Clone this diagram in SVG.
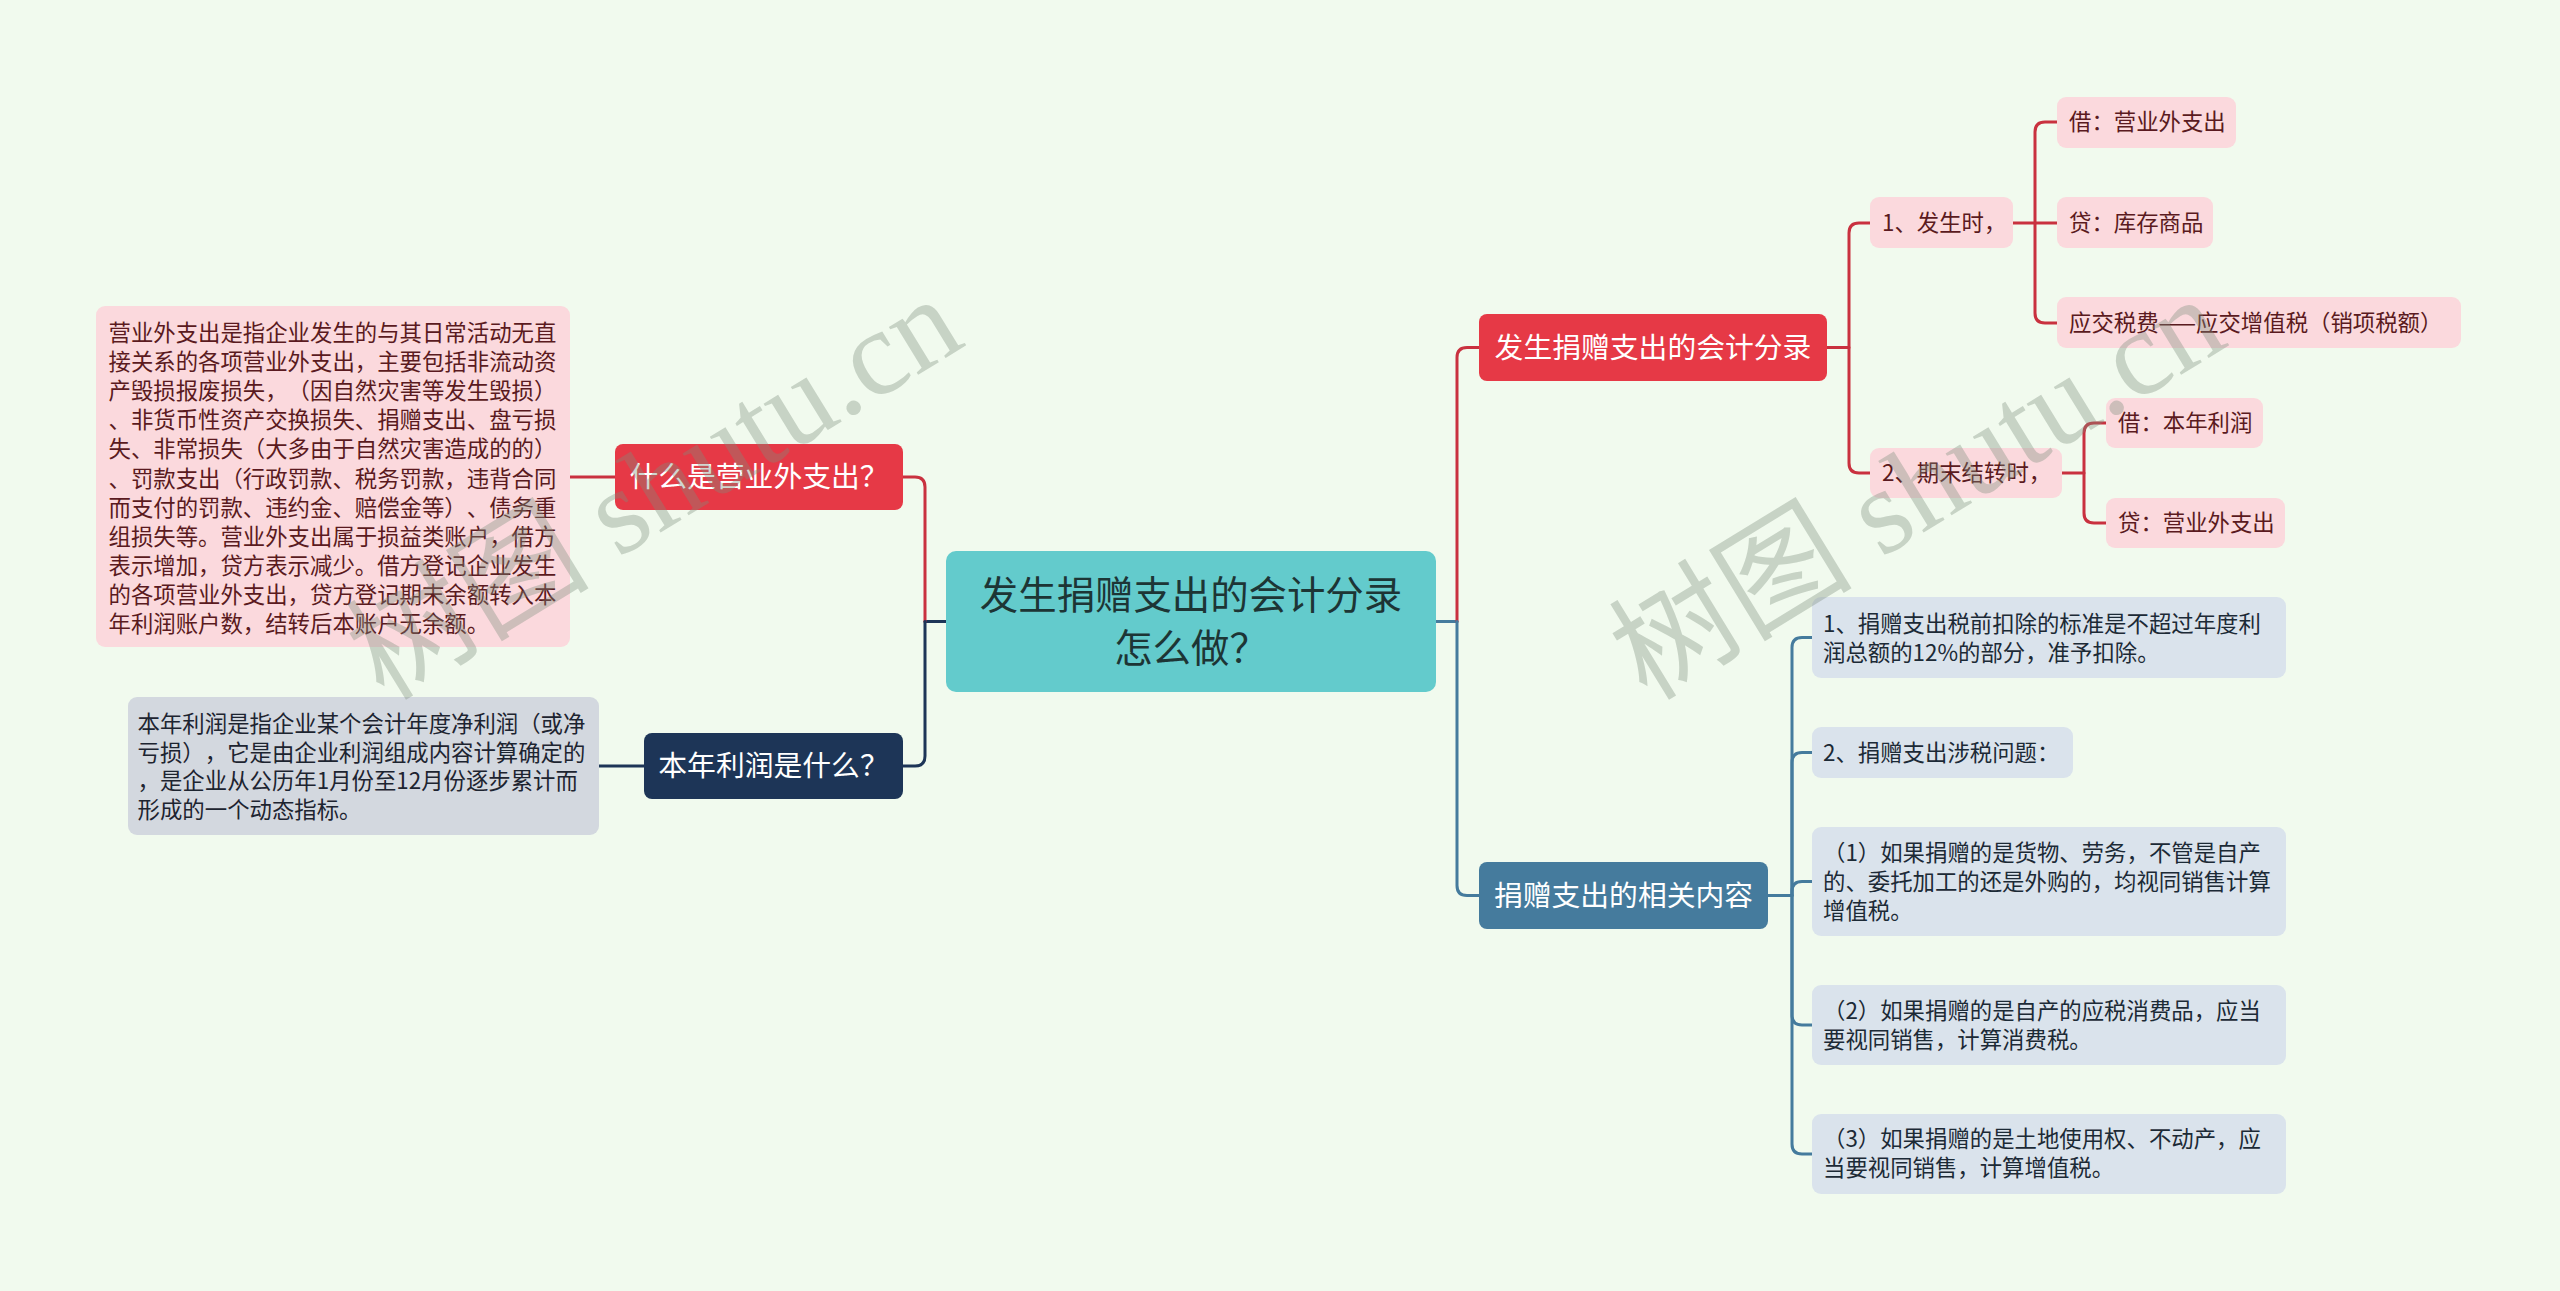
<svg xmlns="http://www.w3.org/2000/svg" width="2560" height="1291" viewBox="0 0 2560 1291">
<defs>
<style>
text{font-family:"Noto Sans CJK SC","Noto Sans",sans-serif;text-spacing-trim:space-all;}
.c{fill:none;stroke-width:3;stroke-linecap:round;stroke-linejoin:round;}
.cr{stroke:#c9313f;}
.cn{stroke:#1d3557;}
.cs{stroke:#457b9d;}
.f38{font-size:38.4px;fill:#1d3535;}
.f29{font-size:28.8px;fill:#ffffff;}
.f22{font-size:22.4px;}
.pk{fill:#fbd9dd;}
.pkt{fill:#5a1a20;}
.bl{fill:#dae3ec;}
.blt{fill:#1c2a36;}
.gr{fill:#d3d8df;}
.grt{fill:#1d2430;}
.wm{font-family:"Liberation Serif","Noto Sans CJK SC",serif;font-size:122px;fill:#7d8e7e;fill-opacity:0.36;}
</style>
</defs>
<rect x="0" y="0" width="2560" height="1291" fill="#f1faee"/>

<g id="connectors">
<path class="c cn" d="M946,621.5 H925"/>
<path class="c cr" d="M925,621.5 V487 Q925,477 915,477 H903"/>
<path class="c cn" d="M925,621.5 V756 Q925,766 915,766 H903"/>
<path class="c cr" d="M570,477 H615"/>
<path class="c cn" d="M599,766 H644"/>

<path class="c cs" d="M1436,621.5 H1457"/>
<path class="c cr" d="M1457,621.5 V357.5 Q1457,347.5 1467,347.5 H1479"/>
<path class="c cs" d="M1457,621.5 V885.5 Q1457,895.5 1467,895.5 H1479"/>

<path class="c cr" d="M1827,347.5 H1849 V233 Q1849,223 1859,223 H1870"/>
<path class="c cr" d="M1849,347.5 V463 Q1849,473 1859,473 H1870"/>

<path class="c cr" d="M2013,223 H2035 V132 Q2035,122 2045,122 H2057"/>
<path class="c cr" d="M2035,223 H2057"/>
<path class="c cr" d="M2035,223 V313 Q2035,323 2045,323 H2057"/>

<path class="c cr" d="M2062,473 H2084 V433 Q2084,423 2094,423 H2106"/>
<path class="c cr" d="M2084,473 V513 Q2084,523 2094,523 H2106"/>

<path class="c cs" d="M1768,895.5 H1792 V647.5 Q1792,637.5 1802,637.5 H1812"/>
<path class="c cs" d="M1792,895.5 V762.5 Q1792,752.5 1802,752.5 H1812"/>
<path class="c cs" d="M1792,895.5 V891.5 Q1792,881.5 1802,881.5 H1812"/>
<path class="c cs" d="M1792,895.5 V1015 Q1792,1025 1802,1025 H1812"/>
<path class="c cs" d="M1792,895.5 V1144 Q1792,1154 1802,1154 H1812"/>
</g>

<g id="root">
<rect x="946" y="551" width="490" height="141" rx="10" fill="#63cbcc"/>
<text class="f38" x="1191" y="608.8" text-anchor="middle">发生捐赠支出的会计分录</text>
<text class="f38" x="1191" y="661.8" text-anchor="middle">怎么做？</text>
</g>

<g id="n-what">
<rect x="615" y="444" width="288" height="66" rx="8" fill="#e63946"/>
<text class="f29" x="759" y="487.4" text-anchor="middle">什么是营业外支出？</text>
</g>

<g id="n-what-desc">
<rect x="96" y="306" width="474" height="341" rx="9" class="pk"/>
<text class="f22 pkt" x="108.5">
<tspan x="108.5" y="341">营业外支出是指企业发生的与其日常活动无直</tspan>
<tspan x="108.5" y="370.1">接关系的各项营业外支出，主要包括非流动资</tspan>
<tspan x="108.5" y="399.2">产毁损报废损失，（因自然灾害等发生毁损）</tspan>
<tspan x="108.5" y="428.3">、非货币性资产交换损失、捐赠支出、盘亏损</tspan>
<tspan x="108.5" y="457.4">失、非常损失（大多由于自然灾害造成的的）</tspan>
<tspan x="108.5" y="486.5">、罚款支出（行政罚款、税务罚款，违背合同</tspan>
<tspan x="108.5" y="515.6">而支付的罚款、违约金、赔偿金等）、债务重</tspan>
<tspan x="108.5" y="544.7">组损失等。营业外支出属于损益类账户，借方</tspan>
<tspan x="108.5" y="573.8">表示增加，贷方表示减少。借方登记企业发生</tspan>
<tspan x="108.5" y="602.9">的各项营业外支出，贷方登记期末余额转入本</tspan>
<tspan x="108.5" y="632">年利润账户数，结转后本账户无余额。</tspan>
</text>
</g>

<g id="n-profit">
<rect x="644" y="733" width="259" height="66" rx="8" fill="#1d3557"/>
<text class="f29" x="773.5" y="776.4" text-anchor="middle">本年利润是什么？</text>
</g>

<g id="n-profit-desc">
<rect x="128" y="697" width="471" height="138" rx="9" class="gr"/>
<text class="f22 grt">
<tspan x="137.6" y="732">本年利润是指企业某个会计年度净利润（或净</tspan>
<tspan x="137.6" y="760.5">亏损），它是由企业利润组成内容计算确定的</tspan>
<tspan x="137.6" y="789">，是企业从公历年1月份至12月份逐步累计而</tspan>
<tspan x="137.6" y="818">形成的一个动态指标。</tspan>
</text>
</g>

<g id="n-entry">
<rect x="1479" y="314" width="348" height="67" rx="8" fill="#e63946"/>
<text class="f29" x="1653" y="358" text-anchor="middle">发生捐赠支出的会计分录</text>
</g>

<g id="n-occur">
<rect x="1870" y="197" width="143" height="51" rx="9" class="pk"/>
<text class="f22 pkt" x="1882" y="231">1、发生时，</text>
</g>
<g id="n-occur-debit">
<rect x="2057" y="97" width="179" height="51" rx="9" class="pk"/>
<text class="f22 pkt" x="2069" y="130">借：营业外支出</text>
</g>
<g id="n-occur-credit1">
<rect x="2057" y="197" width="156" height="51" rx="9" class="pk"/>
<text class="f22 pkt" x="2069" y="231">贷：库存商品</text>
</g>
<g id="n-occur-credit2">
<rect x="2057" y="297" width="404" height="51" rx="9" class="pk"/>
<text class="f22 pkt" x="2069" y="331">应交税费——应交增值税（销项税额）</text>
</g>

<g id="n-close">
<rect x="1870" y="448" width="192" height="50" rx="9" class="pk"/>
<text class="f22 pkt" x="1882" y="481">2、期末结转时，</text>
</g>
<g id="n-close-debit">
<rect x="2106" y="398" width="157" height="50" rx="9" class="pk"/>
<text class="f22 pkt" x="2118" y="431">借：本年利润</text>
</g>
<g id="n-close-credit">
<rect x="2106" y="498" width="179" height="50" rx="9" class="pk"/>
<text class="f22 pkt" x="2118" y="531">贷：营业外支出</text>
</g>

<g id="n-related">
<rect x="1479" y="862" width="289" height="67" rx="8" fill="#457b9d"/>
<text class="f29" x="1623.5" y="906" text-anchor="middle">捐赠支出的相关内容</text>
</g>

<g id="n-rel-1">
<rect x="1812" y="597" width="474" height="81" rx="9" class="bl"/>
<text class="f22 blt">
<tspan x="1823" y="632">1、捐赠支出税前扣除的标准是不超过年度利</tspan>
<tspan x="1823" y="661">润总额的12%的部分，准予扣除。</tspan>
</text>
</g>
<g id="n-rel-2">
<rect x="1812" y="727" width="261" height="51" rx="9" class="bl"/>
<text class="f22 blt" x="1823" y="760.5">2、捐赠支出涉税问题：</text>
</g>
<g id="n-rel-3">
<rect x="1812" y="827" width="474" height="109" rx="9" class="bl"/>
<text class="f22 blt">
<tspan x="1823" y="861">（1）如果捐赠的是货物、劳务，不管是自产</tspan>
<tspan x="1823" y="890">的、委托加工的还是外购的，均视同销售计算</tspan>
<tspan x="1823" y="919">增值税。</tspan>
</text>
</g>
<g id="n-rel-4">
<rect x="1812" y="985" width="474" height="80" rx="9" class="bl"/>
<text class="f22 blt">
<tspan x="1823" y="1019">（2）如果捐赠的是自产的应税消费品，应当</tspan>
<tspan x="1823" y="1048">要视同销售，计算消费税。</tspan>
</text>
</g>
<g id="n-rel-5">
<rect x="1812" y="1114" width="474" height="80" rx="9" class="bl"/>
<text class="f22 blt">
<tspan x="1823" y="1147">（3）如果捐赠的是土地使用权、不动产，应</tspan>
<tspan x="1823" y="1176">当要视同销售，计算增值税。</tspan>
</text>
</g>

<g id="watermarks">
<text class="wm" transform="translate(384,702) rotate(-31.5)">树图 shutu.cn</text>
<text class="wm" transform="translate(1647,702) rotate(-31.5)">树图 shutu.cn</text>
</g>
</svg>
